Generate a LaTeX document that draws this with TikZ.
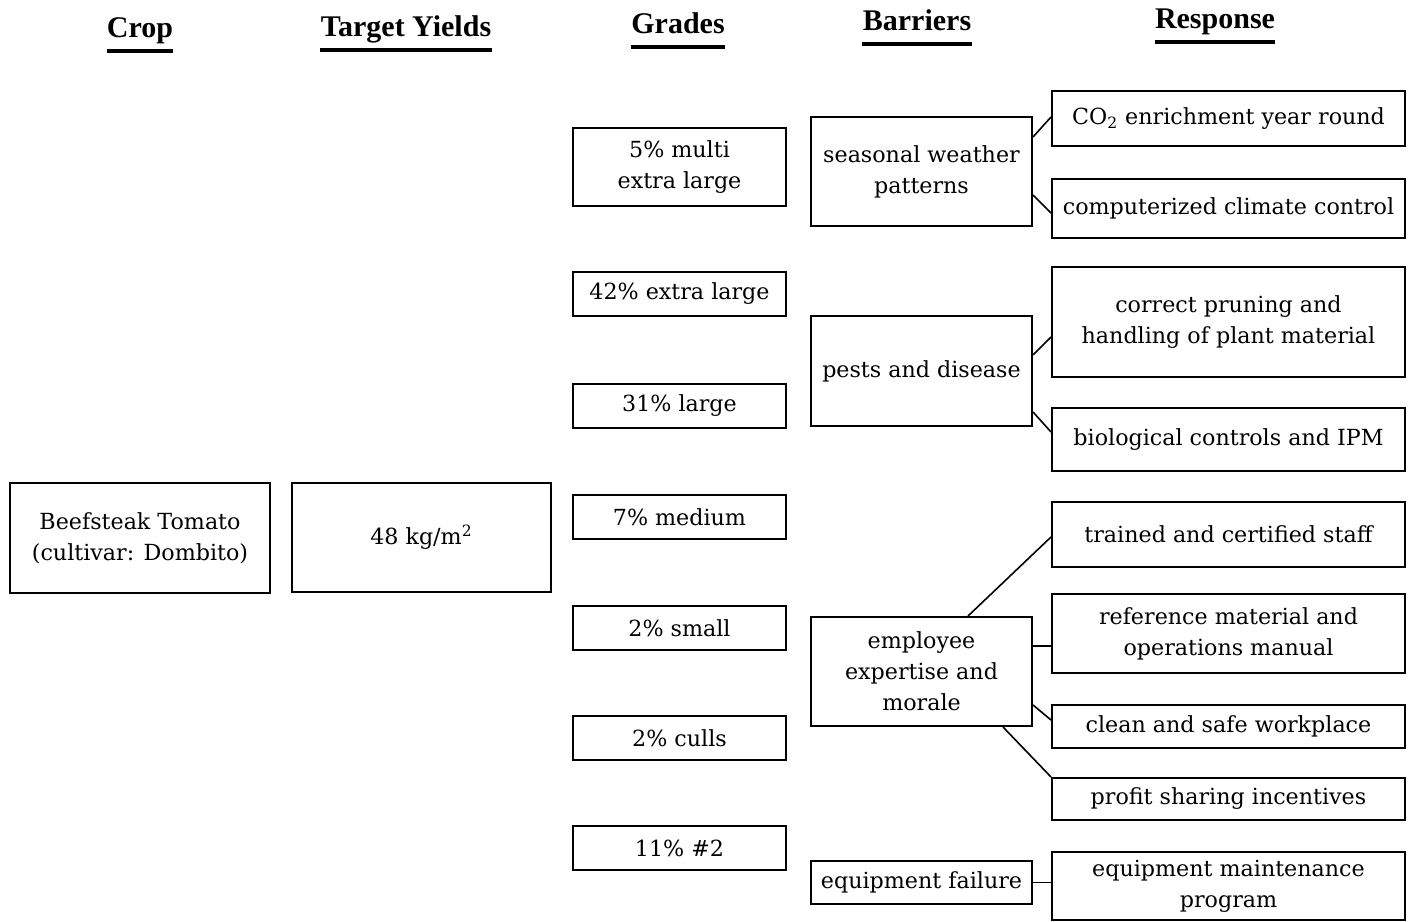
\documentclass[tikz,border=0pt]{standalone}
\usepackage{fontspec}
\setmainfont{DejaVu Serif}
\newfontfamily\headfont{Liberation Serif}
\newcommand{\bodyfont}{\fontsize{11.1}{15.5}\selectfont}
\begin{document}
\begin{tikzpicture}[x=0.5pt,y=-0.5pt,
  box/.style={draw,line width=1pt,align=center,inner sep=2pt,font=\bodyfont},
  gbox/.style={box,minimum width=106.5pt},
  bbox/.style={box,minimum width=110.5pt},
  rbox/.style={box,minimum width=176.5pt},
  link/.style={line width=0.8pt},
  head/.style={inner sep=0pt,font=\headfont\fontsize{15}{18}\selectfont\bfseries},
  uline/.style={line width=2pt}]
\useasboundingbox (0,0) rectangle (1412,921);
% headers
\node[head,anchor=base] (h1) at (140,37) {Crop};
\node[head,anchor=base] (h2) at (406,36) {Target Yields};
\node[head,anchor=base] (h3) at (678,33) {Grades};
\node[head,anchor=base] (h4) at (917,30) {Barriers};
\node[head,anchor=base] (h5) at (1215,28) {Response};
\foreach \h in {h1,h2,h3,h4,h5}{
  \draw[uline] ([yshift=-7pt]\h.base west) -- ([yshift=-7pt]\h.base east);
}
% crop and yield
\node[box,minimum width=130pt,minimum height=55pt] (crop) at (140,538) {Beefsteak Tomato\\(cultivar: Dombito)};
\node[box,minimum width=129.5pt,minimum height=54.5pt] (yield) at (421.5,537.5) {48 kg/m\textsuperscript{2}};
% grades
\node[gbox,minimum height=39pt] (g1) at (679.5,167) {5\% multi\\extra large};
\node[gbox,minimum height=22pt] (g2) at (679.5,294) {42\% extra large};
\node[gbox,minimum height=22pt] (g3) at (679.5,406) {31\% large};
\node[gbox,minimum height=22pt] (g4) at (679.5,517) {7\% medium};
\node[gbox,minimum height=22pt] (g5) at (679.5,628) {2\% small};
\node[gbox,minimum height=22pt] (g6) at (679.5,738) {2\% culls};
\node[gbox,minimum height=22pt] (g7) at (679.5,848) {11\% \#2};
% barriers
\node[bbox,minimum height=54.5pt] (b1) at (921.5,171.5) {seasonal weather\\patterns};
\node[bbox,minimum height=55pt] (b2) at (921.5,371) {pests and disease};
\node[bbox,minimum height=54.5pt] (b3) at (921.5,671.5) {employee\\expertise and\\morale};
\node[bbox,minimum height=21.5pt] (b4) at (921.5,882.5) {equipment failure};
% responses
\node[rbox,minimum height=27.5pt] (r1) at (1228.5,118.5) {CO\textsubscript{2} enrichment year round};
\node[rbox,minimum height=29.5pt] (r2) at (1228.5,208.5) {computerized climate control};
\node[rbox,minimum height=55pt] (r3) at (1228.5,322) {correct pruning and\\handling of plant material};
\node[rbox,minimum height=31.5pt] (r4) at (1228.5,439.5) {biological controls and IPM};
\node[rbox,minimum height=32.5pt] (r5) at (1228.5,534.5) {trained and certified staff};
\node[rbox,minimum height=39.5pt] (r6) at (1228.5,633.5) {reference material and\\operations manual};
\node[rbox,minimum height=21.5pt] (r7) at (1228.5,726.5) {clean and safe workplace};
\node[rbox,minimum height=21pt] (r8) at (1228.5,799) {profit sharing incentives};
\node[rbox,minimum height=34pt] (r9) at (1228.5,886) {equipment maintenance\\program};
% connectors
\draw[link] ([yshift=17.25pt]b1.east) -- ([yshift=0.75pt]r1.west);
\draw[link] ([yshift=-11.75pt]b1.east) -- ([yshift=-2.25pt]r2.west);
\draw[link] ([yshift=8pt]b2.east) -- ([yshift=-7.5pt]r3.west);
\draw[link] ([yshift=-20.5pt]b2.east) -- ([yshift=3.75pt]r4.west);
\draw[link] ([xshift=23.25pt]b3.north) -- ([yshift=-1.25pt]r5.west);
\draw[link] ([yshift=12.75pt]b3.east) -- ([yshift=-6.25pt]r6.west);
\draw[link] ([yshift=-16.75pt]b3.east) -- ([yshift=3.25pt]r7.west);
\draw[link] ([xshift=40.75pt]b3.south) -- (r8.north west);
\draw[link] (b4.east) -- (b4.east -| r9.west);
\end{tikzpicture}
\end{document}
